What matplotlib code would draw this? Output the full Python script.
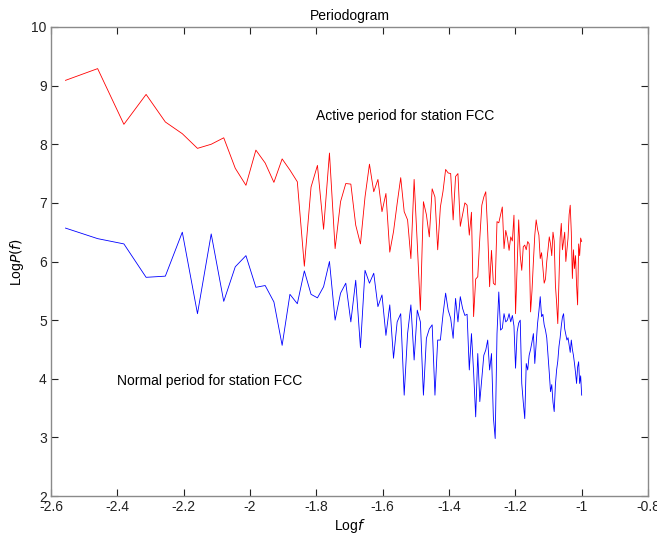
import numpy as np
import matplotlib
matplotlib.use("Agg")
import matplotlib.pyplot as plt

plt.rcParams['font.family'] = ['Liberation Sans', 'DejaVu Sans']

# frequency grid of the periodogram: harmonics 4..144 of a 1440-sample record
n_samples = 1440
harmonics = np.arange(4, 145)

# Log P(f), one value per harmonic
active_logp = [
    9.09, 9.29, 8.34, 8.85, 8.38, 8.18, 7.93, 8.00, 8.11, 7.59,
    7.30, 7.90, 7.68, 7.35, 7.75, 7.56, 7.36, 5.92, 7.27, 7.64,
    6.55, 7.85, 6.22, 7.02, 7.33, 7.32, 6.62, 6.30, 7.10, 7.66,
    7.19, 7.40, 6.85, 7.16, 6.16, 6.51, 6.99, 7.43, 6.85, 6.71,
    6.05, 7.40, 6.30, 5.17, 7.02, 6.80, 6.42, 7.24, 7.10, 6.20,
    6.93, 7.20, 7.57, 7.51, 7.50, 6.71, 7.45, 7.50, 6.60, 6.80,
    7.00, 6.96, 6.45, 6.84, 5.06, 5.70, 5.74, 6.40, 6.96, 7.10,
    7.19, 6.50, 5.57, 6.19, 5.63, 5.60, 6.68, 6.66, 6.80, 6.93,
    6.22, 6.53, 6.40, 6.19, 6.42, 6.35, 6.79, 5.11, 5.90, 6.71,
    6.10, 5.85, 6.25, 6.28, 6.20, 6.34, 6.30, 5.14, 5.50, 6.00,
    6.45, 6.71, 6.55, 6.45, 6.05, 6.15, 5.90, 5.63, 5.70, 6.00,
    6.20, 6.42, 6.30, 6.10, 6.50, 6.35, 5.60, 5.30, 4.94, 5.70,
    6.40, 6.65, 6.20, 6.35, 6.50, 6.00, 6.20, 6.40, 6.80, 6.96,
    6.50, 5.71, 6.20, 5.88, 6.10, 5.60, 5.26, 6.30, 6.10, 6.40,
    6.34,
]
normal_logp = [
    6.57, 6.39, 6.30, 5.73, 5.75, 6.50, 5.11, 6.47, 5.32, 5.91,
    6.10, 5.56, 5.59, 5.31, 4.57, 5.44, 5.28, 5.84, 5.44, 5.38,
    5.57, 6.00, 5.00, 5.46, 5.63, 4.97, 5.68, 4.53, 5.85, 5.63,
    5.80, 5.23, 5.43, 4.74, 5.26, 4.35, 4.97, 5.11, 3.72, 4.77,
    5.26, 4.32, 5.17, 4.97, 3.72, 4.69, 4.85, 4.92, 3.72, 4.66,
    4.66, 5.10, 5.46, 5.17, 5.03, 4.69, 5.37, 4.97, 5.40, 5.20,
    5.08, 5.10, 4.15, 4.77, 4.12, 3.35, 4.43, 3.61, 4.00, 4.40,
    4.49, 4.66, 4.15, 4.43, 3.35, 2.98, 4.77, 5.48, 4.83, 4.86,
    5.11, 4.97, 5.00, 5.11, 4.97, 5.08, 4.90, 4.18, 4.80, 4.95,
    5.00, 3.92, 3.60, 3.32, 4.26, 4.15, 4.40, 4.50, 4.63, 4.77,
    4.26, 4.60, 4.94, 5.15, 5.40, 5.06, 5.10, 4.92, 4.83, 4.70,
    4.40, 4.10, 3.78, 3.90, 3.60, 3.44, 3.90, 4.15, 4.30, 4.55,
    4.70, 4.90, 5.05, 5.11, 4.85, 4.75, 4.66, 4.70, 4.58, 4.45,
    4.66, 4.50, 4.40, 4.26, 4.10, 3.92, 4.20, 4.29, 3.92, 4.05,
    3.72,
]

x_ticks = [-2.6, -2.4, -2.2, -2.0, -1.8, -1.6, -1.4, -1.2, -1.0, -0.8]
x_tick_labels = ['-2.6', '-2.4', '-2.2', '-2', '-1.8', '-1.6', '-1.4', '-1.2', '-1', '-0.8']
y_ticks = [2, 3, 4, 5, 6, 7, 8, 9, 10]

logf = np.log10(harmonics / n_samples)

fig = plt.figure(figsize=(6.57, 5.35), dpi=100)
ax = fig.add_axes([51 / 657, 39 / 535, 597 / 657, 469 / 535])

ax.plot(logf, active_logp, color='red', linewidth=0.6)
ax.plot(logf, normal_logp, color='blue', linewidth=0.6)

ax.text(-1.8, 8.48, 'Active period for station FCC', fontsize=10, va='center', ha='left')
ax.text(-2.4, 3.96, 'Normal period for station FCC', fontsize=10, va='center', ha='left')

ax.set_xlim(-2.6, -0.8)
ax.set_ylim(2, 10)
ax.set_xticks(x_ticks)
ax.set_xticklabels(x_tick_labels)
ax.set_yticks(y_ticks)
ax.tick_params(direction='in', length=5, width=0.8, top=True, right=True,
               labelsize=10, colors='#222222', pad=3)
for s in ax.spines.values():
    s.set_color('#8a8a8a')
    s.set_linewidth(1.0)

ax.set_title('Periodogram', fontsize=10, pad=5)
ax.set_xlabel(r'Log$\it{f}$', fontsize=10, labelpad=2)
ax.set_ylabel(r'Log$\it{P(f)}$', fontsize=10, labelpad=4)

fig.savefig('out.png', dpi=100)
